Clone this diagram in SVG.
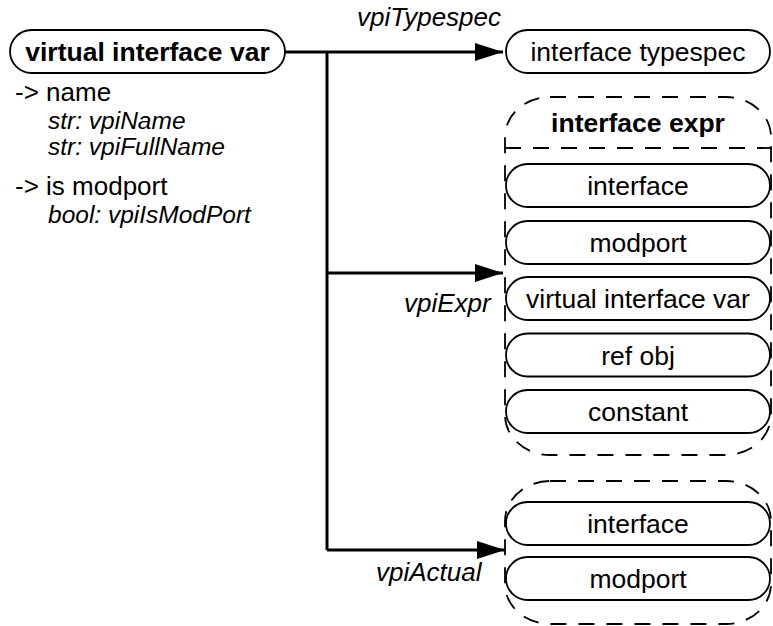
<svg xmlns="http://www.w3.org/2000/svg" width="773" height="626" viewBox="0 0 773 626">
<defs>
<marker id="arr" markerWidth="30" markerHeight="20" refX="28" refY="9" orient="auto" markerUnits="userSpaceOnUse">
<path d="M0,0 L28,9 L0,18 Z" fill="#000"/>
</marker>
<style>
.node{fill:#fff;stroke:#000;stroke-width:1.8}
.cont{fill:none;stroke:#000;stroke-width:1.8;stroke-dasharray:16 12}
.t{font-family:"Liberation Sans",Arial,sans-serif;font-size:26.5px;fill:#000;text-anchor:middle}
.b{font-weight:bold}
.lbl{font-family:"Liberation Sans",Arial,sans-serif;font-size:26px;font-style:italic;fill:#000}
.attr{font-family:"Liberation Sans",Arial,sans-serif;font-size:26px;fill:#000}
.ai{font-family:"Liberation Sans",Arial,sans-serif;font-size:24.5px;font-style:italic;fill:#000}
.conn{fill:none;stroke:#000;stroke-width:3}
</style>
</defs>
<rect width="773" height="626" fill="#fff"/>
<g id="connectors">
<path class="conn" d="M285,52 H503" marker-end="url(#arr)"/>
<path class="conn" d="M327,52 V550"/>
<path class="conn" d="M327,273 H503" marker-end="url(#arr)"/>
<path class="conn" d="M327,550 H505" marker-end="url(#arr)"/>
<text class="lbl" x="357" y="26">vpiTypespec</text>
<text class="lbl" x="404" y="312">vpiExpr</text>
<text class="lbl" x="376" y="581">vpiActual</text>
</g>
<g id="virtual_interface_var">
<rect class="node" x="10" y="30" width="275" height="43" rx="21.5"/>
<text class="t b" x="147.5" y="61">virtual interface var</text>
<text class="attr" x="15" y="101">-&gt; name</text>
<text class="ai" x="48" y="129">str: vpiName</text>
<text class="ai" x="48" y="155">str: vpiFullName</text>
<text class="attr" x="15" y="195">-&gt; is modport</text>
<text class="ai" x="48" y="223">bool: vpiIsModPort</text>
</g>
<g id="interface_typespec">
<rect class="node" x="506" y="30" width="264" height="43" rx="21.5"/>
<text class="t" x="638" y="61">interface typespec</text>
</g>
<g id="interface_expr">
<rect class="cont" x="505" y="97" width="266" height="358" rx="45" ry="40"/>
<line class="cont" x1="505" y1="148" x2="771" y2="148"/>
<text class="t b" x="638" y="132">interface expr</text>
<g id="expr_interface"><rect class="node" x="506" y="164" width="264" height="43" rx="21.5"/><text class="t" x="638" y="195">interface</text></g>
<g id="expr_modport"><rect class="node" x="506" y="221" width="264" height="43" rx="21.5"/><text class="t" x="638" y="252">modport</text></g>
<g id="expr_virtual_interface_var"><rect class="node" x="506" y="277" width="264" height="43" rx="21.5"/><text class="t" x="638" y="308">virtual interface var</text></g>
<g id="expr_ref_obj"><rect class="node" x="506" y="333.5" width="264" height="43" rx="21.5"/><text class="t" x="638" y="364.5">ref obj</text></g>
<g id="expr_constant"><rect class="node" x="506" y="390" width="264" height="43" rx="21.5"/><text class="t" x="638" y="421">constant</text></g>
</g>
<g id="actual_group">
<rect class="cont" x="505" y="481" width="266" height="143" rx="45" ry="40"/>
<g id="actual_interface"><rect class="node" x="506" y="502" width="264" height="43" rx="21.5"/><text class="t" x="638" y="533">interface</text></g>
<g id="actual_modport"><rect class="node" x="506" y="557" width="264" height="43" rx="21.5"/><text class="t" x="638" y="588">modport</text></g>
</g>
</svg>
